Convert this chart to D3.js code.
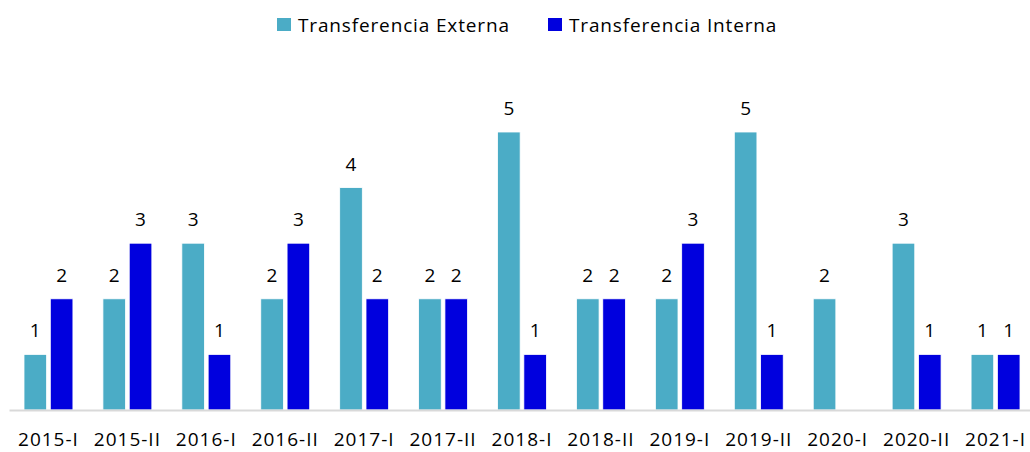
<!DOCTYPE html>
<html>
<head>
<meta charset="utf-8">
<script src="https://cdn.jsdelivr.net/npm/d3@7"></script>
<style>
  body { margin: 0; background: #fff; }
  text { font-family: "Open Sans", sans-serif; fill: #000; }
</style>
</head>
<body>
<svg width="1030" height="452"></svg>
<script>
var categories = ["2015-I", "2015-II", "2016-I", "2016-II", "2017-I", "2017-II", "2018-I",
  "2018-II", "2019-I", "2019-II", "2020-I", "2020-II", "2021-I"];
var externa = [1, 2, 3, 2, 4, 2, 5, 2, 2, 5, 2, 3, 1];
var interna = [2, 3, 1, 3, 2, 2, 1, 2, 3, 1, null, 1, 1];
var seriesNames = ["Transferencia Externa", "Transferencia Interna"];
var colors = ["#4BACC6", "#0000DE"];

var svg = d3.select("svg");

var x = d3.scaleBand()
  .domain(categories)
  .range([9, 1035])
  .paddingInner(0.38)
  .paddingOuter(0.19);

var sub = d3.scaleBand()
  .domain([0, 1])
  .range([0, x.bandwidth()])
  .paddingInner(0.14);

var y = d3.scaleLinear()
  .domain([0, 5])
  .range([410, 132]);

var rows = categories.map(function(c, i) {
  return {cat: c, vals: [externa[i], interna[i]]};
});

var group = svg.selectAll(".grp")
  .data(rows)
  .enter().append("g")
  .attr("class", "grp")
  .attr("transform", function(d) { return "translate(" + x(d.cat) + ",0)"; });

var cells = group.selectAll(".cell")
  .data(function(d) {
    return d.vals.map(function(v, k) { return {k: k, v: v}; })
      .filter(function(e) { return e.v != null; });
  })
  .enter();

cells.append("rect")
  .attr("x", function(d) { return sub(d.k); })
  .attr("y", function(d) { return y(d.v); })
  .attr("width", sub.bandwidth())
  .attr("height", function(d) { return y(0) - y(d.v); })
  .attr("fill", function(d) { return colors[d.k]; })
  .attr("stroke", "#fff")
  .attr("stroke-width", 0.8);

cells.append("text")
  .attr("x", function(d) { return sub(d.k) + sub.bandwidth() / 2; })
  .attr("y", function(d) { return y(d.v) - 17; })
  .attr("text-anchor", "middle")
  .style("font-size", "19px")
  .text(function(d) { return d.v; });

// axis
var axis = svg.append("g")
  .attr("transform", "translate(0," + y(0) + ")")
  .call(d3.axisBottom(x).tickSize(0).tickPadding(23));
axis.select(".domain").attr("stroke", "#D9D9D9").attr("stroke-width", 2);
axis.selectAll("text")
  .style("font-size", "19px")
  .style("letter-spacing", "1px")
  .style("font-family", "'Open Sans', sans-serif");

// legend
var legendX = [277, 548];
var legend = svg.selectAll(".leg")
  .data(seriesNames)
  .enter().append("g")
  .attr("class", "leg")
  .attr("transform", function(d, i) { return "translate(" + legendX[i] + ",18)"; });
legend.append("rect")
  .attr("width", 14).attr("height", 13)
  .attr("fill", function(d, i) { return colors[i]; });
legend.append("text")
  .attr("x", 21).attr("y", 14)
  .style("font-size", "19px")
  .style("letter-spacing", "0.85px")
  .text(function(d) { return d; });
</script>
</body>
</html>
